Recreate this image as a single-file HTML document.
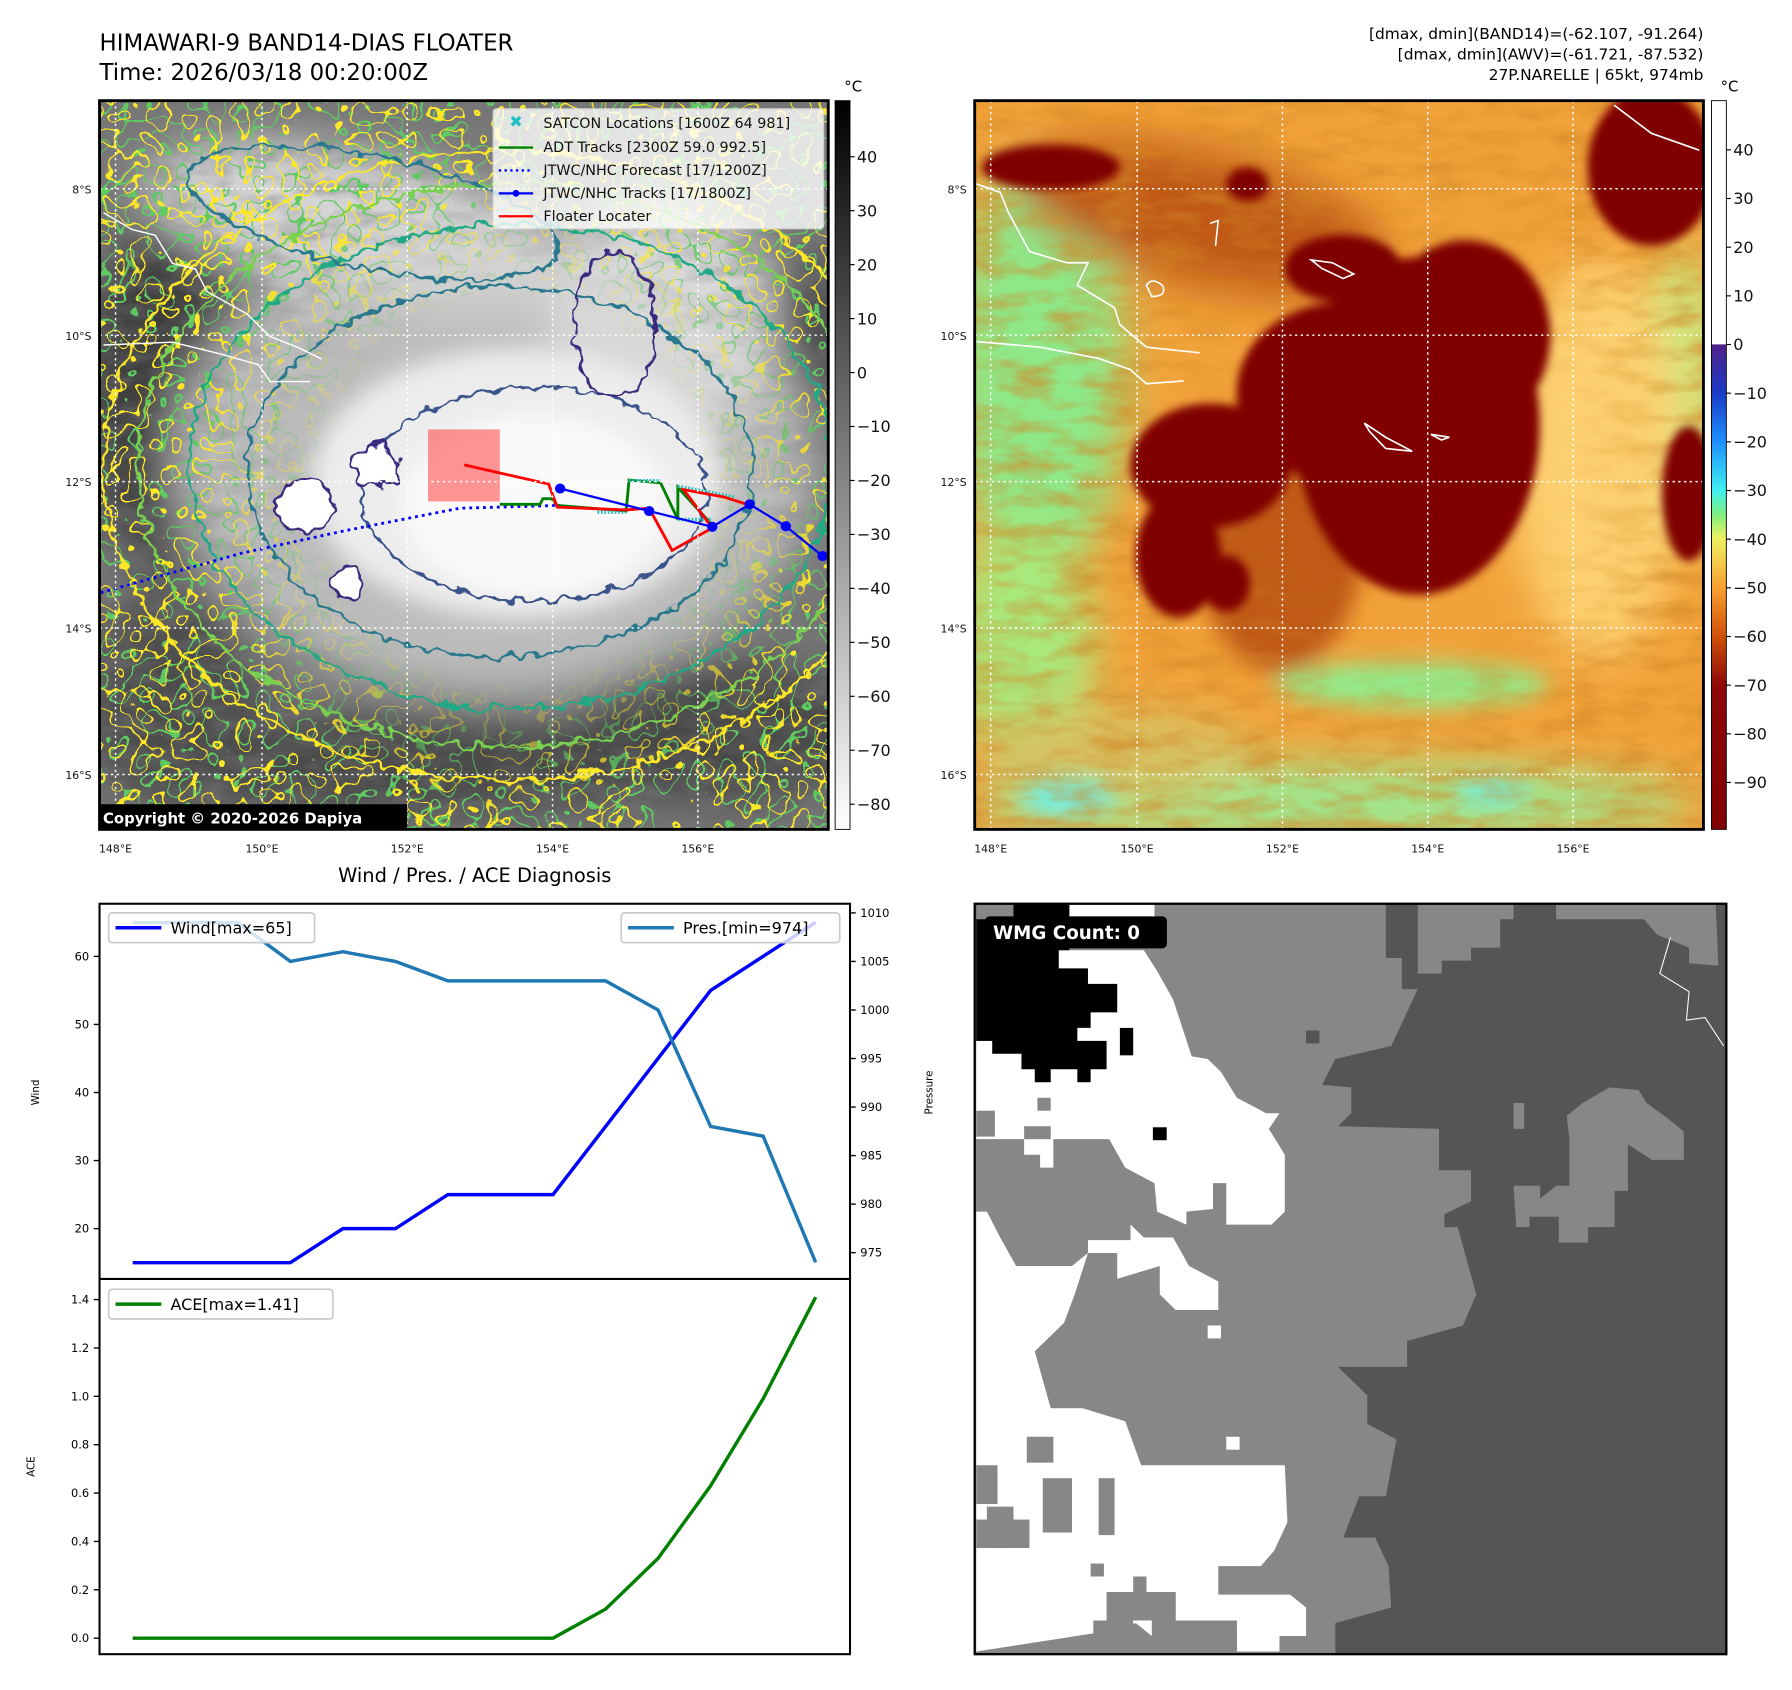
<!DOCTYPE html>
<html><head><meta charset="utf-8">
<style>
html,body{margin:0;padding:0;background:#fff;}
svg{display:block;font-family:"DejaVu Sans","Liberation Sans",sans-serif;}
</style></head>
<body>
<svg id="root" width="1792" height="1690" viewBox="0 0 1566.4 1477.3" preserveAspectRatio="none" xmlns="http://www.w3.org/2000/svg">
<defs>
 <clipPath id="c1"><rect x="87" y="88" width="637" height="637"/></clipPath>
 <clipPath id="c2"><rect x="852" y="88" width="637" height="637"/></clipPath>
 <clipPath id="c3"><rect x="852" y="790" width="657" height="656"/></clipPath>
 <filter id="b40" x="-50%" y="-50%" width="200%" height="200%"><feGaussianBlur stdDeviation="40"/></filter>
 <filter id="b20" x="-50%" y="-50%" width="200%" height="200%"><feGaussianBlur stdDeviation="20"/></filter>
 <filter id="b8" x="-50%" y="-50%" width="200%" height="200%"><feGaussianBlur stdDeviation="8"/></filter>
 <filter id="ctY" filterUnits="userSpaceOnUse" x="87" y="88" width="637" height="637">
  <feTurbulence type="fractalNoise" baseFrequency="0.045" numOctaves="2" seed="4" result="n"/>
  <feColorMatrix in="n" type="matrix" values="0 0 0 0 0 0 0 0 0 0 0 0 0 0 0 1 0 0 0 0" result="a"/>
  <feComponentTransfer in="a" result="band"><feFuncA type="discrete" tableValues="0 0 0 0 0 0 0 0 0 1 0 0 0 0 0 0 0 0 1 0 0 0 0 0 0 0 0 0 0 0"/></feComponentTransfer>
  <feFlood flood-color="#fde725"/><feComposite in2="band" operator="in"/>
 </filter>
 <filter id="ctG" filterUnits="userSpaceOnUse" x="87" y="88" width="637" height="637">
  <feTurbulence type="fractalNoise" baseFrequency="0.04" numOctaves="2" seed="9" result="n"/>
  <feColorMatrix in="n" type="matrix" values="0 0 0 0 0 0 0 0 0 0 0 0 0 0 0 1 0 0 0 0" result="a"/>
  <feComponentTransfer in="a" result="band"><feFuncA type="discrete" tableValues="0 0 0 0 0 0 0 0 0 0 0 1 0 0 0 0 0 0 0 0 1 0 0 0 0 0 0 0 0 0"/></feComponentTransfer>
  <feFlood flood-color="#5ec962"/><feComposite in2="band" operator="in"/>
 </filter>
 <filter id="tex1" filterUnits="userSpaceOnUse" x="87" y="88" width="637" height="637">
  <feTurbulence type="fractalNoise" baseFrequency="0.03 0.07" numOctaves="3" seed="5" result="n"/>
  <feColorMatrix in="n" type="matrix" values="0 0 0 0 0.2 0 0 0 0 0.2 0 0 0 0 0.2 1.6 0 0 0 -0.6"/>
 </filter>
 <filter id="tex2" filterUnits="userSpaceOnUse" x="852" y="88" width="637" height="637">
  <feTurbulence type="fractalNoise" baseFrequency="0.025 0.07" numOctaves="3" seed="11" result="n"/>
  <feColorMatrix in="n" type="matrix" values="0 0 0 0 0.65 0 0 0 0 0.25 0 0 0 0 0.02 1.8 0 0 0 -0.7"/>
 </filter>
 <filter id="wob" x="-10%" y="-10%" width="120%" height="120%">
  <feTurbulence type="fractalNoise" baseFrequency="0.04" numOctaves="2" seed="2" result="t"/>
  <feDisplacementMap in="SourceGraphic" in2="t" scale="30" xChannelSelector="R" yChannelSelector="G"/>
 </filter>
 <radialGradient id="edgeMask" gradientUnits="userSpaceOnUse" cx="450" cy="430" r="330">
  <stop offset="0.5" stop-color="#000"/><stop offset="0.85" stop-color="#fff"/>
 </radialGradient>
 <mask id="m1" maskUnits="userSpaceOnUse" x="87" y="88" width="637" height="637"><rect x="87" y="88" width="637" height="637" fill="url(#edgeMask)"/></mask>
 <radialGradient id="edgeMask2" gradientUnits="userSpaceOnUse" cx="1230" cy="400" r="330">
  <stop offset="0.4" stop-color="#000"/><stop offset="0.8" stop-color="#fff"/>
 </radialGradient>
 <mask id="m2" maskUnits="userSpaceOnUse" x="852" y="88" width="637" height="637"><rect x="852" y="88" width="637" height="637" fill="url(#edgeMask2)"/></mask>
 <linearGradient id="cb1" x1="0" y1="0" x2="0" y2="1">
  <stop offset="0" stop-color="#000"/><stop offset="1" stop-color="#fff"/>
 </linearGradient>
 <linearGradient id="cb2" x1="0" y1="0" x2="0" y2="1">
  <stop offset="0" stop-color="#fff"/><stop offset="0.334" stop-color="#fff"/>
  <stop offset="0.335" stop-color="#50208a"/><stop offset="0.402" stop-color="#1a3cc8"/>
  <stop offset="0.468" stop-color="#1e90ff"/><stop offset="0.535" stop-color="#40f0f0"/>
  <stop offset="0.568" stop-color="#80f080"/><stop offset="0.601" stop-color="#f0f060"/>
  <stop offset="0.669" stop-color="#f8a030"/><stop offset="0.735" stop-color="#d05008"/>
  <stop offset="0.802" stop-color="#900808"/><stop offset="1" stop-color="#800000"/>
 </linearGradient>
</defs>

<!-- Titles -->
<text x="87" y="44" font-size="20">HIMAWARI-9 BAND14-DIAS FLOATER</text>
<text x="87" y="70" font-size="20">Time: 2026/03/18 00:20:00Z</text>
<g font-size="13.5" text-anchor="end">
 <text x="1489" y="34">[dmax, dmin](BAND14)=(-62.107, -91.264)</text>
 <text x="1489" y="52">[dmax, dmin](AWV)=(-61.721, -87.532)</text>
 <text x="1489" y="70">27P.NARELLE | 65kt, 974mb</text>
</g>

<!-- MAP 1 -->
<g clip-path="url(#c1)">
 <rect x="87" y="88" width="637" height="637" fill="#767676"/>
 <g transform="matrix(0.502 0 0 0.492 0.15 -1)">
  <g filter="url(#b40)">
   <ellipse cx="300" cy="700" rx="150" ry="320" fill="#3c3c3c"/>
   <ellipse cx="1390" cy="650" rx="70" ry="200" fill="#3a3a3a"/>
   <ellipse cx="700" cy="1360" rx="520" ry="90" fill="#4a4a4a"/>
   <ellipse cx="1250" cy="1300" rx="250" ry="130" fill="#4a4a4a"/>
   <ellipse cx="300" cy="1250" rx="150" ry="200" fill="#4e4e4e"/>
   <ellipse cx="860" cy="820" rx="560" ry="420" fill="#bcbcbc"/>
   <ellipse cx="620" cy="400" rx="380" ry="130" fill="#d4d4d4" transform="rotate(12 620 400)"/>
   <ellipse cx="1150" cy="560" rx="200" ry="220" fill="#d8d8d8"/>
  </g>
  <g filter="url(#b20)">
   <ellipse cx="900" cy="860" rx="360" ry="240" fill="#ececec"/>
   <ellipse cx="930" cy="900" rx="230" ry="160" fill="#fafafa"/>
  </g>
 </g>
 <rect x="87" y="88" width="637" height="637" filter="url(#tex1)" mask="url(#m1)" opacity="0.6"/>
 <rect x="87" y="88" width="637" height="637" filter="url(#ctG)" mask="url(#m1)"/>
 <rect x="87" y="88" width="637" height="637" filter="url(#ctY)" mask="url(#m1)"/>
 <g transform="matrix(0.502 0 0 0.492 0.15 -1)">
  <g fill="none" filter="url(#wob)" stroke-width="5">
   <ellipse cx="880" cy="830" rx="700" ry="560" stroke="#fde725"/>
   <ellipse cx="880" cy="830" rx="640" ry="500" stroke="#7ad151"/>
   <ellipse cx="890" cy="830" rx="560" ry="430" stroke="#22a884"/>
   <ellipse cx="870" cy="840" rx="440" ry="330" stroke="#2a788e"/>
   <ellipse cx="930" cy="880" rx="300" ry="190" stroke="#3b528b"/>
   <ellipse cx="650" cy="380" rx="330" ry="100" stroke="#2a788e" transform="rotate(12 650 380)"/>
   <ellipse cx="1070" cy="580" rx="70" ry="130" stroke="#3b2a80"/>
   <ellipse cx="530" cy="900" rx="50" ry="45" stroke="#3b2a80" fill="#fff"/>
   <ellipse cx="655" cy="830" rx="40" ry="35" stroke="#3b2a80" fill="#fff"/>
   <ellipse cx="605" cy="1040" rx="25" ry="30" stroke="#3b2a80" fill="#fff"/>
  </g>
  <g fill="none" stroke="#fff" stroke-width="2.5">
   <path d="M180 380 L230 410 L270 420 L300 470 L340 480 L360 520 L430 560 L470 600 L520 620 L560 640"/>
   <path d="M180 615 L300 610 L380 630 L450 650 L470 680 L540 680"/>
  </g>
  <rect x="745" y="765" width="125" height="128" fill="#ff5050" opacity="0.6"/>
  <polyline points="175,1055 420,985 600,945 800,905 975,900" fill="none" stroke="#0000ff" stroke-width="5" stroke-dasharray="5,7"/>
  <polyline points="870,898 940,898 945,888 960,888 970,900 1090,910 1095,855 1150,860 1180,925 1180,868 1240,935" fill="none" stroke="#008000" stroke-width="5"/>
  <g stroke="#20c0c0" stroke-width="6" stroke-dasharray="3,3">
   <line x1="1040" y1="912" x2="1090" y2="912"/><line x1="1095" y1="856" x2="1150" y2="856"/>
   <line x1="1180" y1="866" x2="1280" y2="885"/><line x1="1180" y1="925" x2="1240" y2="925"/>
  </g>
  <polyline points="808,828 955,862 970,903 1090,908 1130,905 1170,980 1240,940 1190,872 1260,885 1300,898" fill="none" stroke="#ff0000" stroke-width="5"/>
  <g fill="#0000ff" stroke="#0000ff" stroke-width="4">
   <polyline points="975,870 1130,910 1240,938 1305,898 1368,937 1432,990" fill="none"/>
   <circle cx="975" cy="870" r="7"/><circle cx="1130" cy="910" r="7"/><circle cx="1240" cy="938" r="7"/>
   <circle cx="1305" cy="898" r="7"/><circle cx="1368" cy="937" r="7"/><circle cx="1432" cy="990" r="7"/>
  </g>
 </g>
 <g stroke="#fff" stroke-width="1.3" stroke-dasharray="2,3" fill="none">
  <line x1="101" y1="88" x2="101" y2="725"/><line x1="229" y1="88" x2="229" y2="725"/><line x1="356" y1="88" x2="356" y2="725"/><line x1="483" y1="88" x2="483" y2="725"/><line x1="610" y1="88" x2="610" y2="725"/>
  <line x1="87" y1="165" x2="724" y2="165"/><line x1="87" y1="293" x2="724" y2="293"/><line x1="87" y1="421" x2="724" y2="421"/><line x1="87" y1="549" x2="724" y2="549"/><line x1="87" y1="677" x2="724" y2="677"/>
 </g>
 <g>
  <rect x="431" y="95" width="289" height="105" rx="3" fill="#fff" opacity="0.8" stroke="#ddd"/>
  <text x="451" y="111" font-size="14" fill="#20c0c0" text-anchor="middle">✖</text>
  <line x1="436" y1="129" x2="466" y2="129" stroke="#008000" stroke-width="2"/>
  <line x1="436" y1="149" x2="466" y2="149" stroke="#0000ff" stroke-width="2" stroke-dasharray="2,3"/>
  <line x1="436" y1="169" x2="466" y2="169" stroke="#0000ff" stroke-width="2"/><circle cx="451" cy="169" r="3" fill="#0000ff"/>
  <line x1="436" y1="189" x2="466" y2="189" stroke="#ff0000" stroke-width="2"/>
  <g font-size="12.5" fill="#111">
   <text x="475" y="112">SATCON Locations [1600Z 64 981]</text>
   <text x="475" y="133">ADT Tracks [2300Z 59.0 992.5]</text>
   <text x="475" y="153">JTWC/NHC Forecast [17/1200Z]</text>
   <text x="475" y="173">JTWC/NHC Tracks [17/1800Z]</text>
   <text x="475" y="193">Floater Locater</text>
  </g>
 </g>
 <rect x="86" y="703" width="270" height="22" fill="#000"/>
 <text x="90" y="720" font-size="13" font-weight="bold" fill="#fff">Copyright © 2020-2026 Dapiya</text>
</g>
<rect x="87" y="88" width="637" height="637" fill="none" stroke="#000" stroke-width="2.5"/>
<g font-size="9.5" fill="#111">
 <g text-anchor="middle"><text x="101" y="745">148°E</text><text x="229" y="745">150°E</text><text x="356" y="745">152°E</text><text x="483" y="745">154°E</text><text x="610" y="745">156°E</text></g>
 <g text-anchor="end"><text x="80" y="169">8°S</text><text x="80" y="297">10°S</text><text x="80" y="425">12°S</text><text x="80" y="553">14°S</text><text x="80" y="681">16°S</text></g>
</g>
<rect x="730" y="88" width="13" height="637" fill="url(#cb1)" stroke="#000" stroke-width="0.8"/>
<text x="738" y="80" font-size="13">°C</text>
<g font-size="14" fill="#111" id="cb1t"></g>

<!-- MAP 2 -->
<g clip-path="url(#c2)">
 <rect x="852" y="88" width="637" height="637" fill="#f2a23a"/>
 <g transform="matrix(0.4646 0 0 0.4919 839.5 -1.5)">
  <g filter="url(#b40)">
   <ellipse cx="150" cy="650" rx="160" ry="380" fill="#8ee888"/>
   <ellipse cx="120" cy="1150" rx="130" ry="220" fill="#a8e87c"/>
   <ellipse cx="700" cy="1430" rx="680" ry="70" fill="#9ee890"/>
   <ellipse cx="300" cy="1340" rx="260" ry="80" fill="#d8c060"/>
   <ellipse cx="1360" cy="700" rx="70" ry="260" fill="#c8e880"/>
   <ellipse cx="1200" cy="820" rx="160" ry="360" fill="#fcd070"/>
   <ellipse cx="450" cy="390" rx="360" ry="120" fill="#c05a18" transform="rotate(12 450 390)"/>
  </g>
  <g filter="url(#b20)">
   <ellipse cx="850" cy="1220" rx="260" ry="40" fill="#90ec8c"/>
   <ellipse cx="200" cy="1420" rx="90" ry="30" fill="#70f0e8"/>
   <ellipse cx="1000" cy="1410" rx="70" ry="20" fill="#70f0e8"/>
   <ellipse cx="600" cy="950" rx="160" ry="250" fill="#c05a18"/>
  </g>
 </g>
 <rect x="852" y="88" width="637" height="637" filter="url(#tex2)" mask="url(#m2)" opacity="0.75"/>
 <g transform="matrix(0.4646 0 0 0.4919 839.5 -1.5)">
  <g filter="url(#b8)" fill="#800000">
   <ellipse cx="860" cy="760" rx="230" ry="300"/>
   <ellipse cx="720" cy="700" rx="200" ry="160"/>
   <ellipse cx="950" cy="600" rx="160" ry="170"/>
   <ellipse cx="470" cy="830" rx="150" ry="110"/>
   <ellipse cx="410" cy="990" rx="80" ry="110"/>
   <ellipse cx="1300" cy="300" rx="120" ry="140"/>
   <ellipse cx="1370" cy="880" rx="50" ry="120"/>
   <ellipse cx="170" cy="300" rx="130" ry="40"/>
   <ellipse cx="500" cy="1040" rx="45" ry="50"/>
   <ellipse cx="540" cy="330" rx="40" ry="30"/>
   <ellipse cx="720" cy="480" rx="110" ry="60"/>
  </g>
  <g fill="none" stroke="#fff" stroke-width="3">
   <path d="M30 330 L75 345 L90 380 L130 450 L200 470 L240 470 L220 510 L290 550 L300 580 L350 620 L450 630"/>
   <path d="M30 610 L150 620 L260 640 L320 660 L350 685 L420 680"/>
   <path d="M350 510 Q360 495 380 510 Q390 530 360 530 Z"/>
   <path d="M660 465 L700 470 L740 490 L720 498 L680 480 Z"/>
   <path d="M760 755 L800 780 L850 805 L800 800 L770 770 Z"/>
   <path d="M885 775 L920 780 L905 785 Z"/>
   <path d="M1230 190 L1300 240 L1390 270"/>
   <path d="M470 400 L485 395 L480 440"/>
  </g>
 </g>
 <g stroke="#fff" stroke-width="1.3" stroke-dasharray="2,3" fill="none">
  <line x1="866" y1="88" x2="866" y2="725"/><line x1="994" y1="88" x2="994" y2="725"/><line x1="1121" y1="88" x2="1121" y2="725"/><line x1="1248" y1="88" x2="1248" y2="725"/><line x1="1375" y1="88" x2="1375" y2="725"/>
  <line x1="852" y1="165" x2="1489" y2="165"/><line x1="852" y1="293" x2="1489" y2="293"/><line x1="852" y1="421" x2="1489" y2="421"/><line x1="852" y1="549" x2="1489" y2="549"/><line x1="852" y1="677" x2="1489" y2="677"/>
 </g>
</g>
<rect x="852" y="88" width="637" height="637" fill="none" stroke="#000" stroke-width="2.5"/>
<g font-size="9.5" fill="#111">
 <g text-anchor="middle"><text x="866" y="745">148°E</text><text x="994" y="745">150°E</text><text x="1121" y="745">152°E</text><text x="1248" y="745">154°E</text><text x="1375" y="745">156°E</text></g>
 <g text-anchor="end"><text x="845" y="169">8°S</text><text x="845" y="297">10°S</text><text x="845" y="425">12°S</text><text x="845" y="553">14°S</text><text x="845" y="681">16°S</text></g>
</g>
<rect x="1496" y="88" width="13" height="637" fill="url(#cb2)" stroke="#000" stroke-width="0.8"/>
<text x="1504" y="80" font-size="13">°C</text>
<g font-size="14" fill="#111" id="cb2t"></g>

<!-- CHART -->
<text x="415" y="771" font-size="17" text-anchor="middle">Wind / Pres. / ACE Diagnosis</text>
<g id="chart"></g>

<!-- WMG panel -->
<g clip-path="url(#c3)">
 <rect x="852" y="790" width="657" height="656" fill="#878787"/>
 <g transform="matrix(0.465 0 0 0.4524 839.4 769.6)">
  <polygon fill="#555" points="830,45 1440,45 1440,1495 705,1495 705,1435 810,1405 805,1325 780,1270 720,1270 750,1190 800,1190 820,1080 765,1050 765,995 710,940 840,940 840,890 945,860 970,800 935,670 910,670 910,645 960,620 960,560 900,560 900,480 710,475 735,450 735,400 680,395 705,345 810,320 860,210 830,210"/>
  <polygon fill="#555" points="800,45 830,45 830,150 800,150"/>
  <polygon fill="#878787" points="1040,430 1060,430 1060,480 1040,480"/>
  <polygon fill="#878787" points="1140,455 1170,430 1220,400 1275,405 1290,430 1330,460 1360,485 1360,540 1300,540 1255,510 1255,600 1230,600 1230,670 1180,670 1180,700 1125,700 1125,650 1070,650 1070,670 1045,670 1040,590 1090,590 1090,615 1120,590 1145,590 1145,500"/>
  <polygon fill="#878787" points="860,45 1040,45 1040,75 1015,75 1015,130 960,130 960,155 905,155 905,180 860,180"/>
  <polygon fill="#878787" points="1120,45 1420,45 1425,165 1370,160 1370,130 1310,105 1285,75 1120,75"/>
  <polygon fill="#fff" points="185,135 345,135 370,175 400,230 435,340 465,345 490,370 520,420 575,450 600,450 580,480 610,530 610,640 585,665 500,665 500,585 475,585 475,635 425,640 425,665 370,640 365,585 310,555 280,500 175,500 175,555 150,555 150,530 120,530 120,500 30,500 30,310 185,310"/>
  <polygon fill="#fff" points="205,45 365,45 365,75 205,75"/>
  <polygon fill="#fff" points="30,640 50,640 75,690 105,745 210,745 240,720 240,695 320,695 320,665 345,690 400,690 430,745 485,775 485,830 405,830 375,800 375,745 295,770 295,720 240,720 215,800 195,855 140,910 170,1020 230,1020 310,1045 340,1130 610,1130 615,1240 590,1295 565,1325 485,1325 485,1380 620,1380 650,1405 650,1460 600,1460 600,1490 520,1490 520,1460 360,1460 330,1435 250,1455 30,1490"/>
  <g fill="#878787">
   <rect x="30" y="445" width="35" height="50"/><rect x="145" y="420" width="25" height="25"/><rect x="120" y="475" width="50" height="25"/>
   <rect x="30" y="1130" width="40" height="75"/><rect x="125" y="1075" width="50" height="50"/><rect x="155" y="1155" width="55" height="105"/>
   <rect x="50" y="1210" width="50" height="80"/><rect x="30" y="1235" width="100" height="55"/><rect x="260" y="1155" width="30" height="110"/>
   <rect x="245" y="1320" width="25" height="25"/><rect x="275" y="1375" width="130" height="55"/><rect x="325" y="1345" width="25" height="30"/>
   <rect x="360" y="1430" width="160" height="55"/><rect x="250" y="1430" width="75" height="25"/>
  </g>
  <rect x="465" y="860" width="25" height="25" fill="#fff"/><rect x="500" y="1075" width="25" height="25" fill="#fff"/>
  <polygon fill="#000" points="30,45 205,45 205,135 185,135 185,170 240,170 240,200 295,200 295,255 245,255 245,285 220,285 220,310 275,310 275,365 245,365 245,390 220,390 220,365 170,365 170,390 140,390 140,365 115,365 115,335 60,335 60,310 30,310"/>
  <polygon fill="#878787" points="30,45 100,45 100,75 30,75"/>
  <rect x="300" y="285" width="25" height="53" fill="#000"/><rect x="362" y="477" width="26" height="25" fill="#000"/>
  <rect x="650" y="290" width="25" height="25" fill="#555"/>
  <path d="M1335 110 L1315 180 L1370 215 L1365 270 L1400 265 L1435 320" fill="none" stroke="#fff" stroke-width="2"/>
 </g>
 <rect x="861" y="801" width="159" height="28" rx="4" fill="#000"/>
 <text x="868" y="821" font-size="16" font-weight="bold" fill="#fff">WMG Count: 0</text>
</g>
<rect x="852" y="790" width="657" height="656" fill="none" stroke="#000" stroke-width="2"/>

<script>
// ---- Chart data ----
const steps = [0,1,2,3,4,5,6,7,8,9,10,11,12,13];
const windValues = [15,15,15,15,20,20,25,25,25,35,45,55,60,65];
const presValues = [1009,1009,1009,1005,1006,1005,1003,1003,1003,1003,1000,988,987,974];
const aceValues = [0,0,0,0,0,0,0,0,0,0.12,0.33,0.63,0.99,1.41];
const windTicks = [20,30,40,50,60];
const presTicks = [975,980,985,990,995,1000,1005,1010];
const aceTicks = [0,0.2,0.4,0.6,0.8,1.0,1.2,1.4];
const cb1Ticks = [40,30,20,10,0,-10,-20,-30,-40,-50,-60,-70,-80];
const cb2Ticks = [40,30,20,10,0,-10,-20,-30,-40,-50,-60,-70,-80,-90];

const NS = 'http://www.w3.org/2000/svg';
const xs = i => 116 + i * (713 - 116) / (steps.length - 1);
const yWind = w => 1074 - (w - 20) * (1074 - 836) / 40;
const yPres = p => 798 + (1010 - p) * (1095 - 798) / 35;
const yAce = a => 1432 - a * (1432 - 1136) / 1.4;
const yCb1 = v => 137 + (40 - v) * (703 - 137) / 120;
const yCb2 = v => 131 + (40 - v) * (684 - 131) / 130;

function mk(tag, attrs, parent) {
  const e = document.createElementNS(NS, tag);
  for (const k in attrs) e.setAttribute(k, attrs[k]);
  parent.appendChild(e);
  return e;
}
const chart = document.getElementById('chart');

const box1 = mk('rect', {x:87, y:790, width:656, height:328, fill:'none', stroke:'#000', 'stroke-width':1.8}, chart);


const box2 = mk('rect', {x:87, y:1118, width:656, height:328, fill:'none', stroke:'#000', 'stroke-width':1.8}, chart);



windTicks.forEach(v => {
  const y = yWind(v);
  mk('line', {x1:82, y1:y, x2:87, y2:y, stroke:'#000', 'stroke-width':1.2}, chart);
  const t = mk('text', {x:78, y:y + 3.5, 'font-size':10, 'text-anchor':'end'}, chart);
  t.textContent = v;
  
  
});
presTicks.forEach(v => {
  const y = yPres(v);
  mk('line', {x1:743, y1:y, x2:748, y2:y, stroke:'#000', 'stroke-width':1.2}, chart);
  const t = mk('text', {x:752, y:y + 3.5, 'font-size':10}, chart);
  t.textContent = v;
  
  
});
aceTicks.forEach(v => {
  const y = yAce(v);
  mk('line', {x1:82, y1:y, x2:87, y2:y, stroke:'#000', 'stroke-width':1.2}, chart);
  const t = mk('text', {x:78, y:y + 3.5, 'font-size':10, 'text-anchor':'end'}, chart);
  t.textContent = v.toFixed(1);
  
  
});
const wl = mk('text', {x:34, y:955, 'font-size':9, 'text-anchor':'middle', transform:'rotate(-90 34 955)'}, chart);
wl.textContent = 'Wind';


const pl = mk('text', {x:815, y:955, 'font-size':9, 'text-anchor':'middle', transform:'rotate(-90 815 955)'}, chart);
pl.textContent = 'Pressure';


const al = mk('text', {x:30, y:1282, 'font-size':9, 'text-anchor':'middle', transform:'rotate(-90 30 1282)'}, chart);
al.textContent = 'ACE';



const wp = mk('polyline', {points: windValues.map((v,i)=>xs(i)+','+yWind(v)).join(' '), fill:'none', stroke:'#0000ff', 'stroke-width':3}, chart);


const pp = mk('polyline', {points: presValues.map((v,i)=>xs(i)+','+yPres(v)).join(' '), fill:'none', stroke:'#1f77b4', 'stroke-width':3}, chart);


const ap = mk('polyline', {points: aceValues.map((v,i)=>xs(i)+','+yAce(v)).join(' '), fill:'none', stroke:'#008000', 'stroke-width':3}, chart);



function legend(x, y, w, color, label, name) {
  const g = mk('g', {}, chart);
  
  
  mk('rect', {x:x, y:y, width:w, height:26, rx:3, fill:'#fff', 'fill-opacity':0.8, stroke:'#ccc', 'stroke-width':1.5}, g);
  mk('line', {x1:x+6, y1:y+13, x2:x+46, y2:y+13, stroke:color, 'stroke-width':3}, g);
  const t = mk('text', {x:x+54, y:y+18, 'font-size':14}, g);
  t.textContent = label;
}
legend(95, 798, 180, '#0000ff', 'Wind[max=' + Math.max(...windValues) + ']', 'wind-legend');
legend(543, 798, 191, '#1f77b4', 'Pres.[min=' + Math.min(...presValues) + ']', 'pressure-legend');
legend(95, 1127, 196, '#008000', 'ACE[max=' + Math.max(...aceValues).toFixed(2) + ']', 'ace-legend');

const cb1g = document.getElementById('cb1t');
cb1Ticks.forEach(v => {
  const y = yCb1(v);
  mk('line', {x1:743, y1:y, x2:747, y2:y, stroke:'#000'}, cb1g);
  const t = mk('text', {x:749, y:y + 5}, cb1g);
  t.textContent = v < 0 ? '\u2212' + (-v) : v;
  
  
});
const cb2g = document.getElementById('cb2t');
cb2Ticks.forEach(v => {
  const y = yCb2(v);
  mk('line', {x1:1509, y1:y, x2:1513, y2:y, stroke:'#000'}, cb2g);
  const t = mk('text', {x:1515, y:y + 5}, cb2g);
  t.textContent = v < 0 ? '\u2212' + (-v) : v;
  
  
});
</script>
</svg>
</body></html>
